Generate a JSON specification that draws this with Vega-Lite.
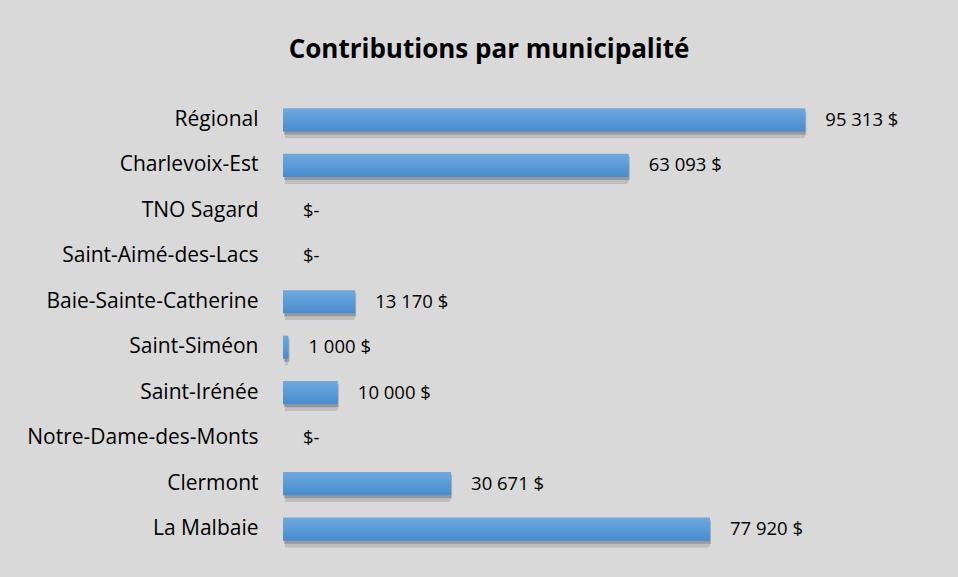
{
  "$schema": "https://vega.github.io/schema/vega-lite/v6.json",
  "width": 548,
  "height": 455,
  "autosize": {"type": "none"},
  "padding": {"left": 283, "top": 97, "right": 127, "bottom": 25},
  "background": "#d9d9d9",
  "title": {
    "text": "Contributions par municipalité",
    "font": "Open Sans",
    "fontSize": 26,
    "fontWeight": "bold",
    "color": "#000000",
    "anchor": "middle",
    "frame": "group",
    "dx": -68,
    "offset": 34
  },
  "config": {
    "view": {"stroke": null},
    "font": "Open Sans"
  },
  "data": {
    "values": [
      {"municipalite": "Régional", "montant": 95313, "etiquette": "95 313  $"},
      {"municipalite": "Charlevoix-Est", "montant": 63093, "etiquette": "63 093 $"},
      {"municipalite": "TNO Sagard", "montant": 0, "etiquette": "$-"},
      {"municipalite": "Saint-Aimé-des-Lacs", "montant": 0, "etiquette": "$-"},
      {"municipalite": "Baie-Sainte-Catherine", "montant": 13170, "etiquette": "13 170 $"},
      {"municipalite": "Saint-Siméon", "montant": 1000, "etiquette": "1 000 $"},
      {"municipalite": "Saint-Irénée", "montant": 10000, "etiquette": "10 000 $"},
      {"municipalite": "Notre-Dame-des-Monts", "montant": 0, "etiquette": "$-"},
      {"municipalite": "Clermont", "montant": 30671, "etiquette": "30 671 $"},
      {"municipalite": "La Malbaie", "montant": 77920, "etiquette": "77 920 $"}
    ]
  },
  "encoding": {
    "y": {
      "field": "municipalite",
      "type": "nominal",
      "sort": null,
      "scale": {"paddingInner": 0.49, "paddingOuter": 0.25},
      "axis": {
        "title": null,
        "domain": false,
        "ticks": false,
        "labelFont": "Open Sans",
        "labelFontSize": 21,
        "labelColor": "#000000",
        "labelPadding": 25,
        "labelLimit": 0
      }
    },
    "x": {
      "field": "montant",
      "type": "quantitative",
      "scale": {"domain": [0, 100000]},
      "axis": null
    }
  },
  "layer": [
    {
      "mark": {"type": "bar", "color": "#000000", "opacity": 0.12, "yOffset": 7, "xOffset": 2, "cornerRadius": 3},
      "encoding": {}
    },
    {
      "mark": {"type": "bar", "color": "#000000", "opacity": 0.2, "yOffset": 3, "xOffset": 1},
      "encoding": {}
    },
    {
      "mark": {
        "type": "bar",
        "color": {
          "gradient": "linear",
          "x1": 0, "y1": 0, "x2": 0, "y2": 1,
          "stops": [
            {"offset": 0, "color": "#70a8e0"},
            {"offset": 0.5, "color": "#5b9bd8"},
            {"offset": 1, "color": "#4a8bd0"}
          ]
        }
      },
      "encoding": {}
    },
    {
      "mark": {"type": "text", "align": "left", "baseline": "middle", "dx": 20, "font": "Open Sans", "fontSize": 18.5, "color": "#000000"},
      "encoding": {"text": {"field": "etiquette"}}
    }
  ]
}
